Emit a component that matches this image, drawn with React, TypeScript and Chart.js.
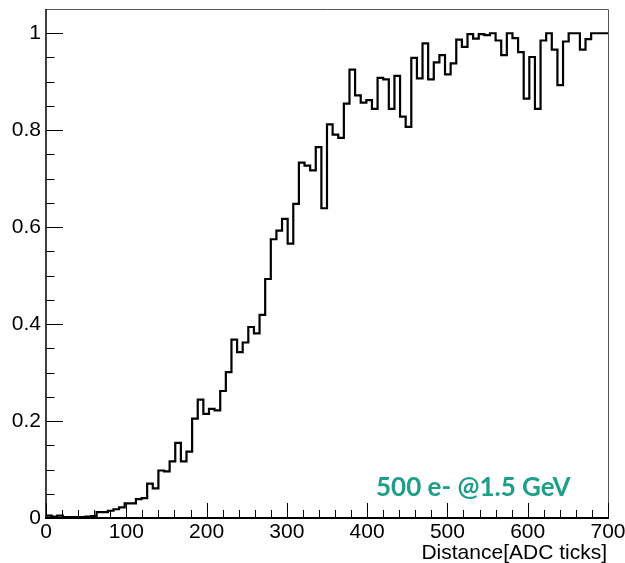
import React, { useEffect, useRef } from 'react';
import { Chart, registerables } from 'chart.js';

Chart.register(...registerables);

// ---- data ----
const binWidth = 7;
const xMin = 0;
const xMax = 700;
const yMin = 0;
const yMax = 1.05;

const efficiency = [
  0.005, 0.003, 0.005, 0.002, 0.002, 0.002, 0.002, 0.003, 0.004, 0.012,
  0.012, 0.015, 0.018, 0.022, 0.030, 0.030, 0.039, 0.041, 0.071, 0.061,
  0.098, 0.096, 0.117, 0.155, 0.117, 0.137, 0.205, 0.244, 0.215, 0.225,
  0.222, 0.262, 0.301, 0.368, 0.342, 0.362, 0.394, 0.381, 0.419, 0.493,
  0.575, 0.593, 0.617, 0.566, 0.648, 0.733, 0.727, 0.717, 0.765, 0.639,
  0.812, 0.791, 0.784, 0.855, 0.925, 0.872, 0.857, 0.862, 0.844, 0.908,
  0.905, 0.844, 0.912, 0.828, 0.807, 0.949, 0.907, 0.979, 0.905, 0.940,
  0.955, 0.915, 0.938, 0.987, 0.972, 0.998, 0.989, 0.998, 0.996, 1.000,
  0.985, 0.955, 1.000, 0.990, 0.961, 0.865, 0.951, 0.844, 0.985, 1.000,
  0.966, 0.893, 0.983, 1.000, 1.000, 0.966, 0.988, 1.000, 1.000, 1.000,
];

const xTickValues = [0, 100, 200, 300, 400, 500, 600, 700];
const xTickLabels = ['0', '100', '200', '300', '400', '500', '600', '700'];
const yTickValues = [0, 0.2, 0.4, 0.6, 0.8, 1];
const yTickLabels = ['0', '0.2', '0.4', '0.6', '0.8', '1'];
const xMinorStep = 20;
const yMinorStep = 0.05;

const xTitle = 'Distance[ADC ticks]';
const annotationText = '500 e- @1.5 GeV';

// ---- styles ----
const axisFont = 'Liberation Sans, Arial, Helvetica, sans-serif';
const annotationColor = '#1f9e89';

const rootFramePlugin = {
  id: 'rootFrame',
  afterDatasetsDraw(chart: any) {
    const { ctx, chartArea } = chart;
    const { left, right, top, bottom } = chartArea;
    const xs = chart.scales.x;
    const ys = chart.scales.y;
    ctx.save();

    // top and right frame
    ctx.strokeStyle = '#555';
    ctx.lineWidth = 1;
    ctx.beginPath();
    ctx.moveTo(left, top + 0.5);
    ctx.lineTo(right + 0.5, top + 0.5);
    ctx.lineTo(right + 0.5, bottom);
    ctx.stroke();

    // left axis
    ctx.strokeStyle = '#000';
    ctx.lineWidth = 1.5;
    ctx.beginPath();
    ctx.moveTo(left, top);
    ctx.lineTo(left, bottom);
    ctx.stroke();

    // bottom axis
    ctx.lineWidth = 2;
    ctx.beginPath();
    ctx.moveTo(left - 1, bottom);
    ctx.lineTo(right + 1, bottom);
    ctx.stroke();

    // x ticks (inside)
    ctx.lineWidth = 1;
    ctx.beginPath();
    for (let i = 0; xMin + i * xMinorStep <= xMax + 1e-9; i++) {
      const v = xMin + i * xMinorStep;
      const px = Math.round(xs.getPixelForValue(v)) + 0.5;
      const major = xTickValues.includes(v);
      const len = major ? 15 : 8;
      ctx.moveTo(px, bottom);
      ctx.lineTo(px, bottom - len);
    }
    // y ticks (inside)
    for (let i = 0; yMin + i * yMinorStep <= 1 + 1e-9; i++) {
      const v = Math.round((yMin + i * yMinorStep) * 100) / 100;
      const py = Math.round(ys.getPixelForValue(v)) + 0.5;
      const major = yTickValues.some((t) => Math.abs(t - v) < 1e-6);
      const len = major ? 17 : 8.5;
      ctx.moveTo(left, py);
      ctx.lineTo(left + len, py);
    }
    ctx.stroke();

    // x axis title
    ctx.fillStyle = '#000';
    ctx.font = `21px ${axisFont}`;
    ctx.textAlign = 'right';
    ctx.textBaseline = 'alphabetic';
    ctx.fillText(xTitle, right - 1, 559);

    // annotation
    ctx.fillStyle = annotationColor;
    ctx.font = 'bold 26px Lato, "Open Sans", sans-serif';
    ctx.textAlign = 'left';
    ctx.fillText(annotationText, 376, 496);

    ctx.restore();
  },
};

export default function App() {
  const canvasRef = useRef<HTMLCanvasElement | null>(null);

  useEffect(() => {
    const canvas = canvasRef.current;
    if (!canvas) return;
    const points = efficiency.map((v, i) => ({ x: xMin + i * binWidth, y: v }));
    points.push({ x: xMin + efficiency.length * binWidth, y: efficiency[efficiency.length - 1] });

    const chart = new Chart(canvas, {
      type: 'line',
      data: {
        datasets: [
          {
            data: points,
            borderColor: '#000',
            borderWidth: 2.2,
            stepped: 'before',
            pointRadius: 0,
            fill: false,
          },
        ],
      },
      options: {
        animation: false,
        responsive: false,
        maintainAspectRatio: false,
        layout: { padding: { left: 0, right: 17, top: 9, bottom: 0 } },
        plugins: {
          legend: { display: false },
          tooltip: { enabled: false },
          title: { display: false },
        },
        scales: {
          x: {
            type: 'linear',
            min: xMin,
            max: xMax,
            grid: { display: false, drawTicks: false },
            border: { display: false },
            afterBuildTicks: (s: any) => {
              s.ticks = xTickValues.map((v) => ({ value: v }));
            },
            afterFit: (s: any) => {
              s.height = 45;
              s.paddingLeft = 0;
              s.paddingRight = 0;
            },
            ticks: {
              autoSkip: false,
              maxRotation: 0,
              minRotation: 0,
              padding: 2,
              color: '#000',
              font: { family: axisFont, size: 21 },
              callback: (v: any) => {
                const i = xTickValues.indexOf(Number(v));
                return i >= 0 ? xTickLabels[i] : '';
              },
            },
          },
          y: {
            type: 'linear',
            min: yMin,
            max: yMax,
            grid: { display: false, drawTicks: false },
            border: { display: false },
            afterBuildTicks: (s: any) => {
              s.ticks = yTickValues.map((v) => ({ value: v }));
            },
            afterFit: (s: any) => {
              s.width = 46;
              s.paddingTop = 0;
              s.paddingBottom = 0;
            },
            ticks: {
              autoSkip: false,
              padding: 5,
              color: '#000',
              font: { family: axisFont, size: 21 },
              callback: (v: any) => {
                const i = yTickValues.findIndex((t) => Math.abs(t - Number(v)) < 1e-6);
                return i >= 0 ? yTickLabels[i] : '';
              },
            },
          },
        },
      },
      plugins: [rootFramePlugin],
    } as any);

    return () => {
      chart.destroy();
    };
  }, []);

  return (
    <div style={{ position: 'absolute', left: 0, top: 0, width: 625, height: 563, background: '#fff' }}>
      <canvas ref={canvasRef} width={625} height={563} />
    </div>
  );
}
